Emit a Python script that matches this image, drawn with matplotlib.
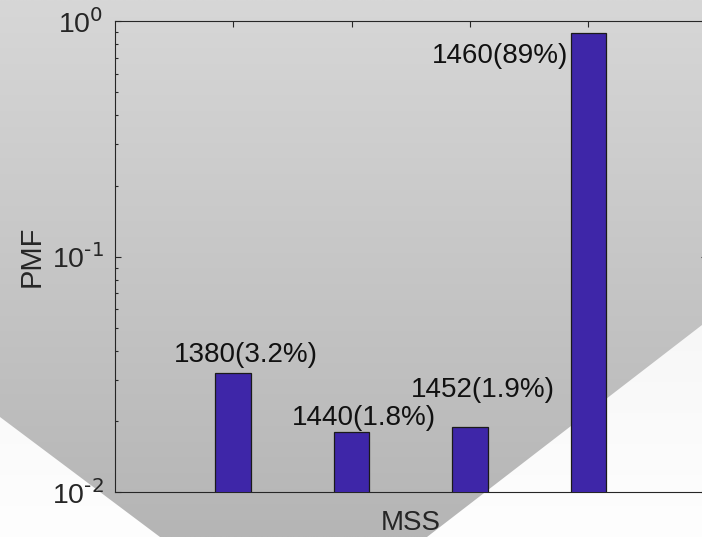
import numpy as np
import matplotlib
matplotlib.use("Agg")
import matplotlib.pyplot as plt
from matplotlib.patches import Polygon
from matplotlib.ticker import LogLocator, NullFormatter, FixedLocator, FuncFormatter

plt.rcParams['font.family'] = ['Liberation Sans', 'DejaVu Sans']
plt.rcParams['mathtext.default'] = 'regular'
plt.rcParams['axes.unicode_minus'] = False

# MSS sizes and their probability mass
mss_values = [1380, 1440, 1452, 1460]
pmf_values = [0.032, 0.018, 0.019, 0.89]
pct_labels = ["3.2%", "1.8%", "1.9%", "89%"]
positions = [1, 2, 3, 4]

# label placement (offset pixels from bar top, alignment)
label_offsets = [(12.6, 11), (12, 7.5), (13, 30), (-20.5, -30)]
label_align = ["center", "center", "center", "right"]

W, H = 702, 537
fig = plt.figure(figsize=(W / 100, H / 100), dpi=100)

# backdrop: vertical grey gradient with two pale wedges at the bottom
bg = fig.add_axes([0, 0, 1, 1], zorder=-10)
bg.set_xlim(0, W)
bg.set_ylim(H, 0)
bg.axis('off')
grad = np.linspace(0xd7, 0xb5, 256)[:, None] / 255.0
grad = np.repeat(grad, 2, axis=1)
bg.imshow(np.dstack([grad, grad, grad]), extent=(0, W, H, 0), aspect='auto',
          interpolation='bilinear')
pale = np.linspace(0xf7, 0xfe, 256)[:, None] / 255.0
pale = np.repeat(pale, 2, axis=1)
for poly in ([(0, 417), (160, 537), (0, 537)],
             [(427, 537), (702, 325), (702, 537)]):
    patch = Polygon(poly, closed=True, facecolor='none', edgecolor='none')
    bg.add_patch(patch)
    im = bg.imshow(np.dstack([pale, pale, pale]), extent=(0, W, H, 320),
                   aspect='auto', interpolation='bilinear')
    im.set_clip_path(patch)
bg.set_xlim(0, W)
bg.set_ylim(H, 0)

ax_left = 114.7 / W
ax_bottom = (H - 492.3) / H
ax_height = (492.3 - 21.3) / H
ax_width = 592.0 / W
ax = fig.add_axes([ax_left, ax_bottom, ax_width, ax_height])
ax.set_facecolor('none')

ax.bar(positions, pmf_values, width=0.3, color='#3e26a8',
       edgecolor='#1a1a1a', linewidth=0.9, zorder=3)

ax.set_yscale('log')
ax.set_ylim(1e-2, 1e0)
ax.set_xlim(0, 5)


def decade_label(val, pos):
    e = int(round(np.log10(val)))
    return r"$10^{\text{%d}}$" % e


ax.xaxis.set_major_locator(FixedLocator(positions))
ax.set_xticklabels([])
ax.yaxis.set_major_locator(LogLocator(base=10, numticks=10))
ax.yaxis.set_major_formatter(FuncFormatter(decade_label))
ax.yaxis.set_minor_locator(LogLocator(base=10, subs=np.arange(2, 10), numticks=20))
ax.yaxis.set_minor_formatter(NullFormatter())

tick_col = '#262626'
ax.tick_params(axis='both', which='major', direction='in', length=4.3,
               width=0.8, color=tick_col, top=True, right=True)
ax.tick_params(axis='y', which='minor', direction='in', length=2.5,
               width=0.8, color=tick_col, right=True)
ax.tick_params(axis='y', which='major', labelsize=20.5, labelcolor=tick_col, pad=8)
for s in ax.spines.values():
    s.set_color(tick_col)
    s.set_linewidth(0.8)

ax.set_xlabel('MSS', fontsize=20, color=tick_col)
ax.xaxis.set_label_coords(0.5, (492.3 - 523) / 471.0)
ax.xaxis.label.set_va('center')
ax.set_ylabel('PMF', fontsize=21, color=tick_col)
ax.yaxis.set_label_coords((31.7 - 114.7) / 592.0, 0.5)
ax.yaxis.label.set_va('center')

for x, v, m, p, (dx, dy), ha in zip(positions, pmf_values, mss_values,
                                    pct_labels, label_offsets, label_align):
    ax.annotate(f"{m}({p})", xy=(x, v), xytext=(dx, dy),
                textcoords='offset pixels', ha=ha, va='baseline',
                fontsize=20, color='#111111', zorder=4)

fig.savefig('out.png', dpi=100)
